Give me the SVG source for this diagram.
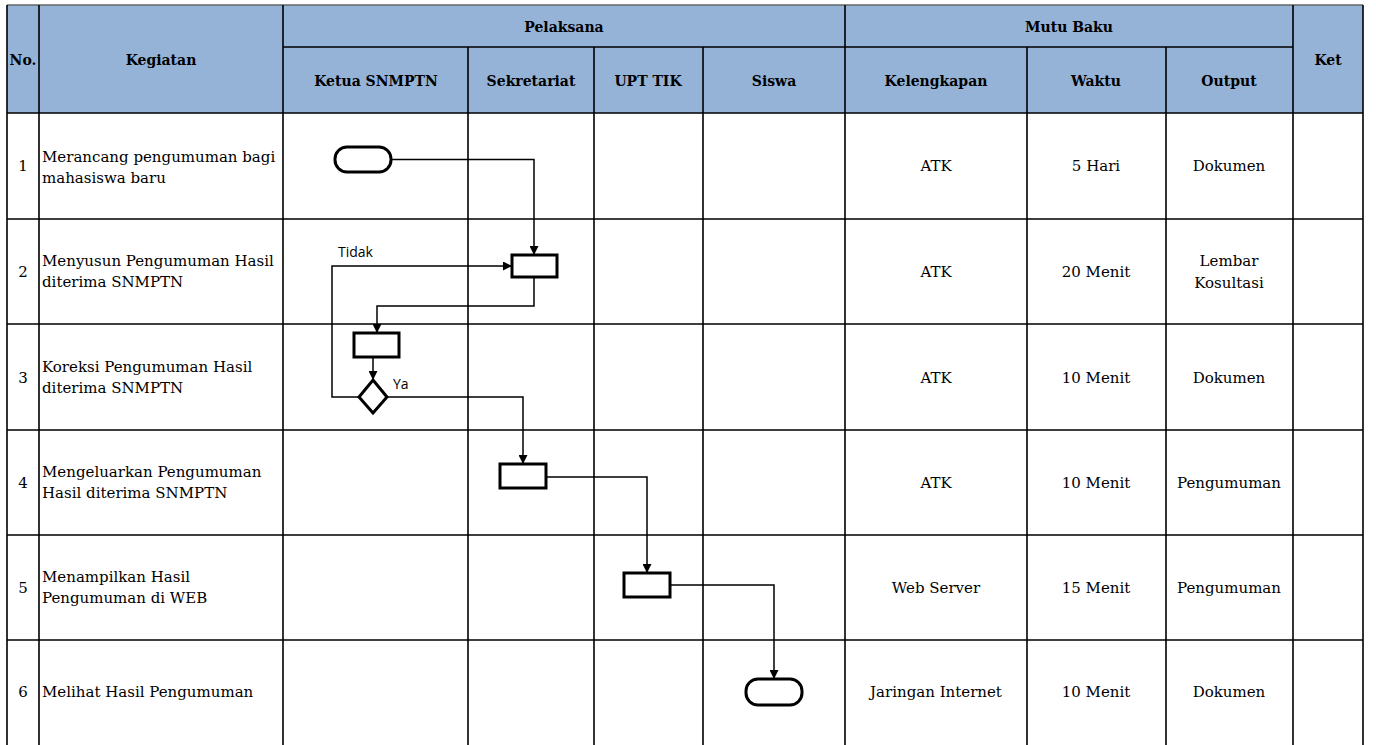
<svg xmlns="http://www.w3.org/2000/svg" width="1376" height="745" viewBox="0 0 1376 745">
<style>
.hd{font-family:"DejaVu Serif","Liberation Serif",serif;font-weight:bold;font-size:14px;fill:#000;text-anchor:middle}
.tx{font-family:"DejaVu Serif","Liberation Serif",serif;font-size:15px;fill:#000}
.c{text-anchor:middle}
.lb{font-family:"Open Sans","Noto Sans",sans-serif;font-size:14px;fill:#000}
.gl{stroke:#000;stroke-width:1.6;fill:none}
.sh{fill:#fff;stroke:#000;stroke-width:3}
.cn{fill:none;stroke:#000;stroke-width:1.5}
</style>
<defs>
<marker id="arr" viewBox="0 0 10 10" refX="10" refY="5" markerWidth="9" markerHeight="9" markerUnits="userSpaceOnUse" orient="auto"><path d="M0,0 L10,5 L0,10 z" fill="#000"/></marker>
</defs>
<rect width="1376" height="745" fill="#fff"/>
<g id="table">
<rect x="7" y="5" width="1356" height="108" fill="#95B3D7"/>
<line x1="7" y1="5" x2="1363" y2="5" stroke="#666" stroke-width="1.5"/>
<path class="gl" d="M283,47H1293 M7,113H1363 M7,219H1363 M7,324H1363 M7,430H1363 M7,535H1363 M7,640H1363"/>
<path class="gl" d="M7,5V745 M39,5V745 M283,5V745 M845,5V745 M1293,5V745 M1363,5V745 M468,47V745 M594,47V745 M703,47V745 M1027,47V745 M1166,47V745"/>
</g>
<g id="header">
<text class="hd" x="23" y="65">No.</text>
<text class="hd" x="161" y="65">Kegiatan</text>
<text class="hd" x="564" y="32">Pelaksana</text>
<text class="hd" x="1069" y="32">Mutu Baku</text>
<text class="hd" x="1328" y="65">Ket</text>
<text class="hd" x="376" y="86">Ketua SNMPTN</text>
<text class="hd" x="531" y="86">Sekretariat</text>
<text class="hd" x="648" y="86">UPT TIK</text>
<text class="hd" x="774" y="86">Siswa</text>
<text class="hd" x="936" y="86">Kelengkapan</text>
<text class="hd" x="1096" y="86">Waktu</text>
<text class="hd" x="1229" y="86">Output</text>
</g>
<g id="rows">
<text class="tx c" x="23" y="171">1</text>
<text class="tx" x="42" y="162">Merancang pengumuman bagi</text>
<text class="tx" x="42" y="183">mahasiswa baru</text>
<text class="tx c" x="936" y="171">ATK</text>
<text class="tx c" x="1096" y="171">5 Hari</text>
<text class="tx c" x="1229" y="171">Dokumen</text>

<text class="tx c" x="23" y="277">2</text>
<text class="tx" x="42" y="266">Menyusun Pengumuman Hasil</text>
<text class="tx" x="42" y="287">diterima SNMPTN</text>
<text class="tx c" x="936" y="277">ATK</text>
<text class="tx c" x="1096" y="277">20 Menit</text>
<text class="tx c" x="1229" y="266">Lembar</text>
<text class="tx c" x="1229" y="288">Kosultasi</text>

<text class="tx c" x="23" y="383">3</text>
<text class="tx" x="42" y="372">Koreksi Pengumuman Hasil</text>
<text class="tx" x="42" y="393">diterima SNMPTN</text>
<text class="tx c" x="936" y="383">ATK</text>
<text class="tx c" x="1096" y="383">10 Menit</text>
<text class="tx c" x="1229" y="383">Dokumen</text>

<text class="tx c" x="23" y="488">4</text>
<text class="tx" x="42" y="477">Mengeluarkan Pengumuman</text>
<text class="tx" x="42" y="498">Hasil diterima SNMPTN</text>
<text class="tx c" x="936" y="488">ATK</text>
<text class="tx c" x="1096" y="488">10 Menit</text>
<text class="tx c" x="1229" y="488">Pengumuman</text>

<text class="tx c" x="23" y="593">5</text>
<text class="tx" x="42" y="582">Menampilkan Hasil</text>
<text class="tx" x="42" y="603">Pengumuman di WEB</text>
<text class="tx c" x="936" y="593">Web Server</text>
<text class="tx c" x="1096" y="593">15 Menit</text>
<text class="tx c" x="1229" y="593">Pengumuman</text>

<text class="tx c" x="23" y="697">6</text>
<text class="tx" x="42" y="697">Melihat Hasil Pengumuman</text>
<text class="tx c" x="936" y="697">Jaringan Internet</text>
<text class="tx c" x="1096" y="697">10 Menit</text>
<text class="tx c" x="1229" y="697">Dokumen</text>
</g>
<g id="connectors">
<path class="cn" d="M391,159.5H534V255" marker-end="url(#arr)"/>
<path class="cn" d="M534,277V306H377V333" marker-end="url(#arr)"/>
<path class="cn" d="M373,357V380" marker-end="url(#arr)"/>
<path class="cn" d="M359,397H332V266H512" marker-end="url(#arr)"/>
<path class="cn" d="M387,397H523V464" marker-end="url(#arr)"/>
<path class="cn" d="M546,477H647V573" marker-end="url(#arr)"/>
<path class="cn" d="M670,585H774V679" marker-end="url(#arr)"/>
<text class="lb" x="338" y="257">Tidak</text>
<text class="lb" x="393" y="389">Ya</text>
</g>
<g id="start"><rect class="sh" x="335" y="147" width="56" height="25" rx="12"/></g>
<g id="box2"><rect class="sh" x="512" y="255" width="45" height="22"/></g>
<g id="box3"><rect class="sh" x="354" y="333" width="45" height="24"/></g>
<g id="decision"><path class="sh" d="M373,380L387,397L373,413L359,397z"/></g>
<g id="box4"><rect class="sh" x="500" y="464" width="46" height="24"/></g>
<g id="box5"><rect class="sh" x="624" y="573" width="46" height="24"/></g>
<g id="end"><rect class="sh" x="746" y="679" width="56" height="26" rx="12"/></g>
</svg>
